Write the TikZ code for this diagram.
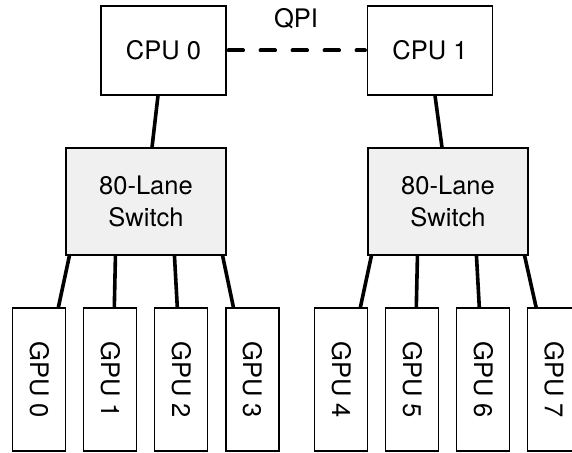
\documentclass[tikz,border=0pt]{standalone}
\usepackage{fontspec}
\setmainfont{TeX Gyre Heros}
\usetikzlibrary{calc}
\definecolor{swfill}{HTML}{F0F0F0}
\tikzset{
  box/.style={draw=black, line width=1.1pt, inner sep=0pt, font=\fontsize{25.5}{31.4}\selectfont, align=center},
  cpubox/.style={box, minimum width=125pt, minimum height=89pt},
  swbox/.style={box, fill=swfill, minimum width=160pt, minimum height=107pt},
  gpubox/.style={box, minimum width=53pt, minimum height=143pt},
  link/.style={line width=3.6pt, line cap=butt},
  qpilink/.style={line width=4pt, line cap=round, dash pattern=on 14.5pt off 17.5pt}
}
\begin{document}
\begin{tikzpicture}[x=1pt, y=-1pt]
\clip (0,0) rectangle (572,452);
\fill[white] (0,0) rectangle (572,452);
% CPUs
\node[cpubox] (c0) at (163.5,50.5) {CPU 0};
\node[cpubox] (c1) at (430,50.5) {CPU 1};
\node[font=\fontsize{25.5}{31.4}\selectfont] (qpi) at (296,19) {QPI};
% switches
\node[swbox] (s0) at (146,201.5) {80-Lane\\Switch};
\node[swbox] (s1) at (448,201.5) {80-Lane\\Switch};
% GPUs
\foreach \i/\x in {0/39.3,1/110.3,2/181.3,3/252.5,4/341.3,5/412.3,6/483.3,7/554.2}{
  \node[gpubox] (g\i) at (\x,379.5) {\rotatebox{-90}{GPU \i}};
}
% links
\draw[qpilink] ([xshift=2pt]c0.east) -- ([xshift=-2pt]c1.west);
\draw[link] ([xshift=-5.5pt]c0.south) -- ([xshift=6pt]s0.north);
\draw[link] ([xshift=5pt]c1.south) -- ([xshift=-6pt]s1.north);
\draw[link] ([xshift=4pt]s0.south west) -- ([xshift=-8pt]g0.north east);
\draw[link] ([xshift=50pt]s0.south west) -- ([xshift=4pt]g1.north);
\draw[link] ([xshift=109pt]s0.south west) -- ([xshift=-4pt]g2.north);
\draw[link] ([xshift=-4pt]s0.south east) -- ([xshift=8pt]g3.north west);
\draw[link] ([xshift=4pt]s1.south west) -- ([xshift=-8pt]g4.north east);
\draw[link] ([xshift=50pt]s1.south west) -- ([xshift=4pt]g5.north);
\draw[link] ([xshift=109pt]s1.south west) -- ([xshift=-4pt]g6.north);
\draw[link] ([xshift=-4pt]s1.south east) -- ([xshift=9pt]g7.north west);
\end{tikzpicture}
\end{document}
